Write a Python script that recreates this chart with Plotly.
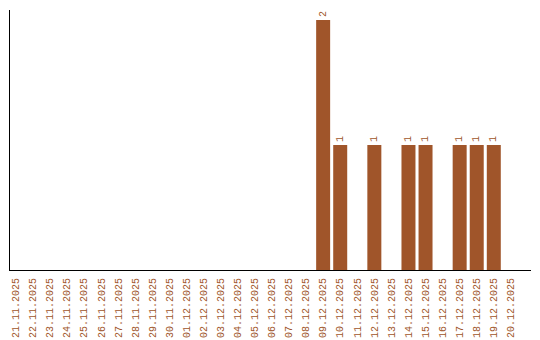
import plotly.graph_objects as go
import pandas as pd

dates = [d.strftime("%d.%m.%Y") for d in pd.date_range("2025-11-21", "2025-12-20")]
counts_by_date = {
    "09.12.2025": 2, "10.12.2025": 1, "12.12.2025": 1, "14.12.2025": 1,
    "15.12.2025": 1, "17.12.2025": 1, "18.12.2025": 1, "19.12.2025": 1,
}
values = [counts_by_date.get(d, 0) for d in dates]
labels = [str(v) if v else "" for v in values]

color = "#A0552A"
font = dict(family="Liberation Mono", size=10, color=color)

fig = go.Figure(go.Bar(
    x=dates, y=values, text=labels, textposition="outside", textangle=-90,
    textfont=font, marker=dict(color=color, line=dict(width=0)),
    cliponaxis=False,
))
fig.update_layout(
    width=540, height=340, margin=dict(l=10, r=9, t=10, b=70),
    paper_bgcolor="white", plot_bgcolor="white", bargap=0.18,
    showlegend=False, font=font,
)
fig.update_xaxes(type="category", tickangle=-90, showline=True, linecolor="black",
                 linewidth=1, showgrid=False, ticks="", tickfont=font,
                 range=[-0.35, 30.18], automargin=False, ticklabelstandoff=3)
fig.update_yaxes(range=[0, 2.08], showline=True, linecolor="black", linewidth=1,
                 showgrid=False, zeroline=False, showticklabels=False, ticks="",
                 automargin=False)
fig.write_html("out.html")
